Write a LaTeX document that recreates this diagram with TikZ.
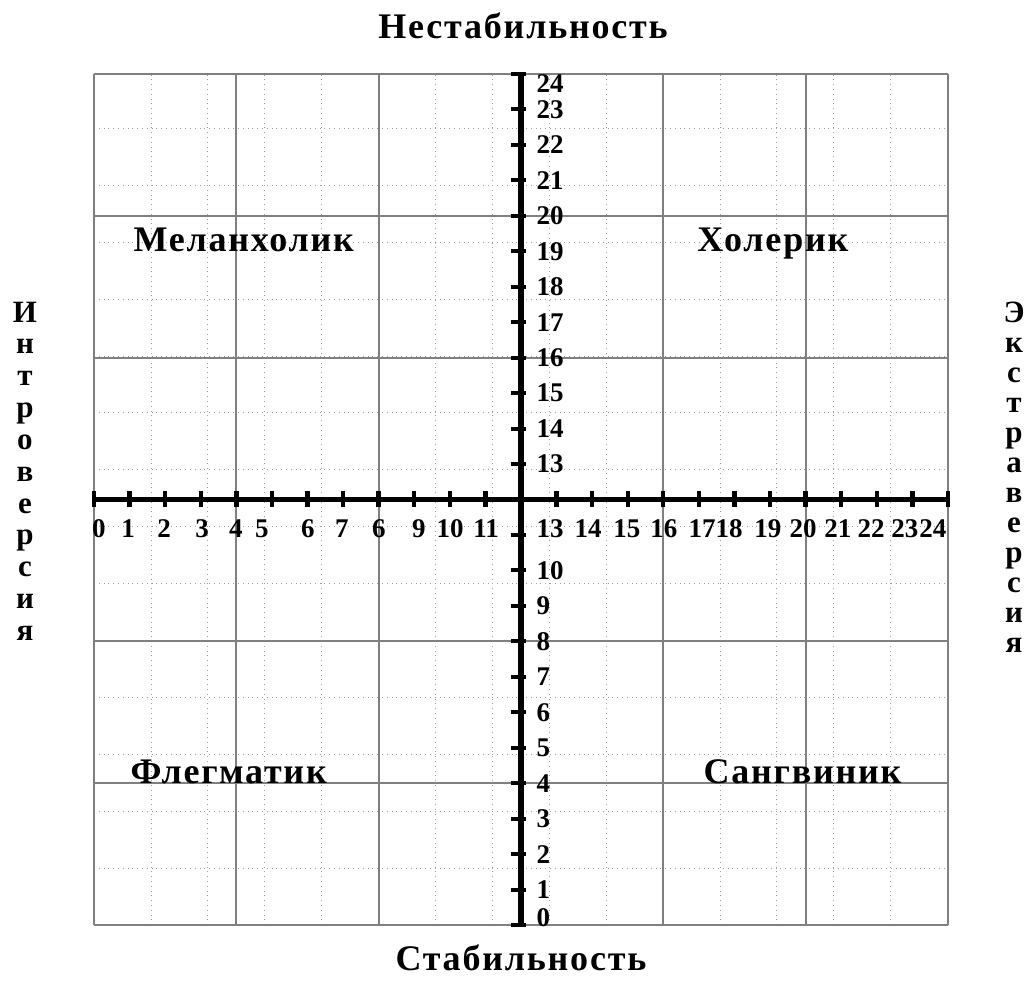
\documentclass[tikz,border=0pt]{standalone}
\usepackage{fontspec}
\setmainfont{Liberation Serif}
\newfontfamily\spacedfont[LetterSpace=5]{Liberation Serif}
\tikzset{
		>=stealth,
		numlbl/.style={font=\fontsize{13.5}{13.5}\selectfont\bfseries, inner sep=0pt},
		typelbl/.style={font=\spacedfont\fontsize{18}{18}\selectfont\bfseries, inner sep=0pt, anchor=base west},
		axislbl/.style={font=\spacedfont\fontsize{18}{18}\selectfont\bfseries, inner sep=0pt, anchor=base},
		sidelbl/.style={font=\fontsize{15.5}{15.5}\selectfont\bfseries, inner sep=0pt, anchor=base}
	}

\begin{document}
\begin{tikzpicture}[x=17.79pt, y=17.73pt]
            \useasboundingbox (-2.642,-2.115) rectangle (26.307,26.086);
            \fill[white] (-2.642,-2.115) rectangle (26.307,26.086);
            \draw[gray!75, dotted, thin] (0,0) grid (24,24);
            \draw[xstep=4, ystep=4, gray, line width=0.9pt] (0,0) grid (24,24);

            \draw[line width=2.6pt] (0, 12) -- (24, 12);
            \draw[line width=2.6pt] (12, 0) -- (12, 24);
            \foreach \x in {0,...,11,13,14,...,24}
            \draw[shift={(\x,12)}, line width=2.2pt] (0pt,4pt) -- (0pt,-4pt);
            \foreach \y in {0,...,11,13,14,...,24}
            \draw[shift={(12,\y)}, line width=2pt] (-5pt,0pt) -- (2.5pt,0pt);

            % labels under the x axis
            \foreach \x/\t in {0.14/0,0.96/1,1.97/2,3.04/3,3.99/4,4.72/5,6.01/6,6.97/7,8.01/6,9.13/9,10.01/10,11.02/11,
                12.82/13,13.89/14,14.98/15,16.02/16,17.09/17,17.85/18,18.94/19,19.93/20,20.91/21,21.84/22,22.79/23,23.58/24}
            \node[numlbl, anchor=base] (xl\t-\x) at (\x, 10.94) {\t};
            % labels right of the y axis
            \foreach \y in {1,...,10,13,14,...,23}
            \node[numlbl, anchor=west] (yl\y) at (12.43, \y) {\y};
            \node[numlbl, anchor=west] (yl0) at (12.43, 0.22) {0};
            \node[numlbl, anchor=west] (yl24) at (12.43, 23.72) {24};

            \node[axislbl] (top) at (12.06, 25.01) {Нестабильность};
            \node[axislbl] (bottom) at (12, -1.27) {Стабильность};

            \node[typelbl] (mel) at (1.10, 19) {Меланхолик};
            \node[typelbl] (hol) at (16.95, 19) {Холерик};
            \node[typelbl] (fle) at (1.02, 4) {Флегматик};
            \node[typelbl] (san) at (17.12, 4) {Сангвиник};

            \foreach \c [count=\i] in {И,н,т,р,о,в,е,р,с,и,я}
            \node[sidelbl] (intro\i) at (-1.94, {17.0 - 0.897*(\i-1)}) {\c};
            \foreach \c [count=\i] in {Э,к,с,т,р,а,в,е,р,с,и,я}
            \node[sidelbl] (extra\i) at (25.86, {16.98 - 0.846*(\i-1)}) {\c};
        \end{tikzpicture}
\end{document}
